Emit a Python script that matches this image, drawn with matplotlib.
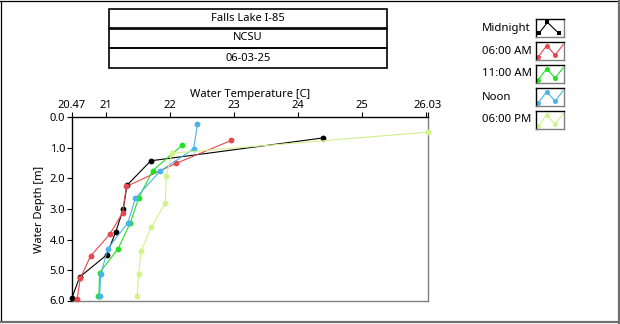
import matplotlib
matplotlib.use("Agg")
import matplotlib.pyplot as plt
from matplotlib.lines import Line2D
from matplotlib.patches import Rectangle

plt.rcParams['font.family'] = ['Noto Sans', 'DejaVu Sans']

# Title block text
title_lines = ["Falls Lake I-85", "NCSU", "06-03-25"]

# Profile series: water temperature [C] against depth [m]
series_names = ["Midnight", "06:00 AM", "11:00 AM", "Noon", "06:00 PM"]
series_colors = ["#000000", "#e5484d", "#22e022", "#4ab3ea", "#d2f28a"]

midnight_temp = [24.39, 21.70, 21.33, 21.27, 21.15, 21.01, 20.59, 20.47]
midnight_depth = [0.67, 1.42, 2.22, 3.01, 3.77, 4.51, 5.23, 5.91]

am6_temp = [22.96, 22.10, 21.32, 21.26, 21.06, 20.76, 20.60, 20.55]
am6_depth = [0.75, 1.50, 2.26, 3.12, 3.83, 4.54, 5.27, 5.96]

am11_temp = [22.19, 21.73, 21.51, 21.38, 21.19, 20.90, 20.89, 20.88]
am11_depth = [0.91, 1.74, 2.64, 3.46, 4.30, 5.09, 5.86, 5.86]

noon_temp = [22.43, 22.37, 21.85, 21.46, 21.34, 21.03, 20.92, 20.90]
noon_depth = [0.20, 1.03, 1.75, 2.65, 3.46, 4.30, 5.14, 5.86]

pm6_temp = [26.03, 22.03, 21.94, 21.93, 21.71, 21.55, 21.51, 21.49]
pm6_depth = [0.48, 1.17, 1.93, 2.79, 3.59, 4.37, 5.13, 5.85]

temps = [midnight_temp, am6_temp, am11_temp, noon_temp, pm6_temp]
depths = [midnight_depth, am6_depth, am11_depth, noon_depth, pm6_depth]

x_ticks = [20.47, 21, 22, 23, 24, 25, 26.03]
x_tick_labels = ["20.47", "21", "22", "23", "24", "25", "26.03"]
y_ticks = [0, 1, 2, 3, 4, 5, 6]
y_tick_labels = ["0.0", "1.0", "2.0", "3.0", "4.0", "5.0", "6.0"]

W, H = 620, 324
fig = plt.figure(figsize=(W / 100, H / 100), dpi=100)


def fx(px):
    return px / W


def fy(py):
    return 1 - py / H


# Outer panel frame
fig.add_artist(Line2D([fx(1), fx(1)], [fy(0.5), fy(321)], color="#000000", lw=0.9))
fig.add_artist(Line2D([fx(0), fx(618)], [fy(0.5), fy(0.5)], color="#000000", lw=0.9))
fig.add_artist(Line2D([fx(618.5), fx(618.5)], [fy(0), fy(322.5)], color="#707070", lw=1.6))
fig.add_artist(Line2D([fx(0), fx(619)], [fy(322), fy(322)], color="#707070", lw=1.6))

# Title block: three stacked boxes
box_rows = [(9, 27.5), (28.5, 47.5), (48.5, 68)]
for text, (top, bot) in zip(title_lines, box_rows):
    fig.add_artist(Rectangle((fx(109), fy(bot)), fx(387) - fx(109), fy(top) - fy(bot),
                             fill=False, ec="#000000", lw=1.2))
    fig.text(fx(248), fy((top + bot) / 2), text, ha="center", va="center",
             fontsize=8.0, color="#000000")

# Main plot
ax = fig.add_axes([fx(72), fy(300.5), fx(428) - fx(72), fy(117.5) - fy(300.5)])
for t, d, c in zip(temps, depths, series_colors):
    ax.plot(t, d, color=c, lw=0.8, marker="o", markersize=4.2,
            markeredgewidth=0, markerfacecolor=c, zorder=3, clip_on=False)

ax.set_xlim(20.47, 26.03)
ax.set_ylim(6, 0)
ax.xaxis.tick_top()
ax.xaxis.set_label_position("top")
ax.set_xticks(x_ticks)
ax.set_xticklabels(x_tick_labels)
ax.set_xticks([26.0], minor=True)
ax.set_yticks(y_ticks)
ax.set_yticklabels(y_tick_labels)
ax.tick_params(axis="both", which="both", direction="out", length=3.5, width=0.8,
               labelsize=8.0, pad=1.5, colors="#000000")
ax.tick_params(axis="x", which="minor", labeltop=False)
ax.set_xlabel("Water Temperature [C]", fontsize=8.0, labelpad=2)
ax.set_ylabel("Water Depth [m]", fontsize=8.0, labelpad=3)
ax.spines["top"].set_color("#000000")
ax.spines["left"].set_color("#000000")
ax.spines["right"].set_color("#808080")
ax.spines["bottom"].set_color("#808080")
for s in ax.spines.values():
    s.set_linewidth(1.0)

# Legend: name labels with small plot-style glyphs
row_centers = [28, 51, 74, 97, 120]
wave_x = [0.08, 0.38, 0.68, 0.97]
wave_y = [0.17, 0.8, 0.27, 0.85]
peak_x = [0.1, 0.41, 0.82]
peak_y = [0.2, 0.81, 0.2]
for i, (name, c, yc) in enumerate(zip(series_names, series_colors, row_centers)):
    fig.text(fx(482), fy(yc), name, ha="left", va="center", fontsize=8.2, color="#000000")
    iax = fig.add_axes([fx(536), fy(yc + 9), fx(564) - fx(536), fy(yc - 9) - fy(yc + 9)])
    if i == 0:
        iax.plot(peak_x, peak_y, color=c, lw=0.8, marker="s", markersize=3.2,
                 markeredgewidth=0)
    else:
        iax.plot(wave_x, wave_y, color=c, lw=0.8)
        iax.plot(wave_x[:3], wave_y[:3], ls="none", marker="o", markersize=3.6,
                 markeredgewidth=0, color=c)
    iax.set_xlim(0, 1)
    iax.set_ylim(0, 1)
    iax.set_xticks([])
    iax.set_yticks([])
    iax.spines["top"].set_color("#000000")
    iax.spines["left"].set_color("#000000")
    iax.spines["right"].set_color("#808080")
    iax.spines["bottom"].set_color("#808080")
    for s in iax.spines.values():
        s.set_linewidth(1.0)

fig.savefig("out.png", dpi=100, facecolor="white")
